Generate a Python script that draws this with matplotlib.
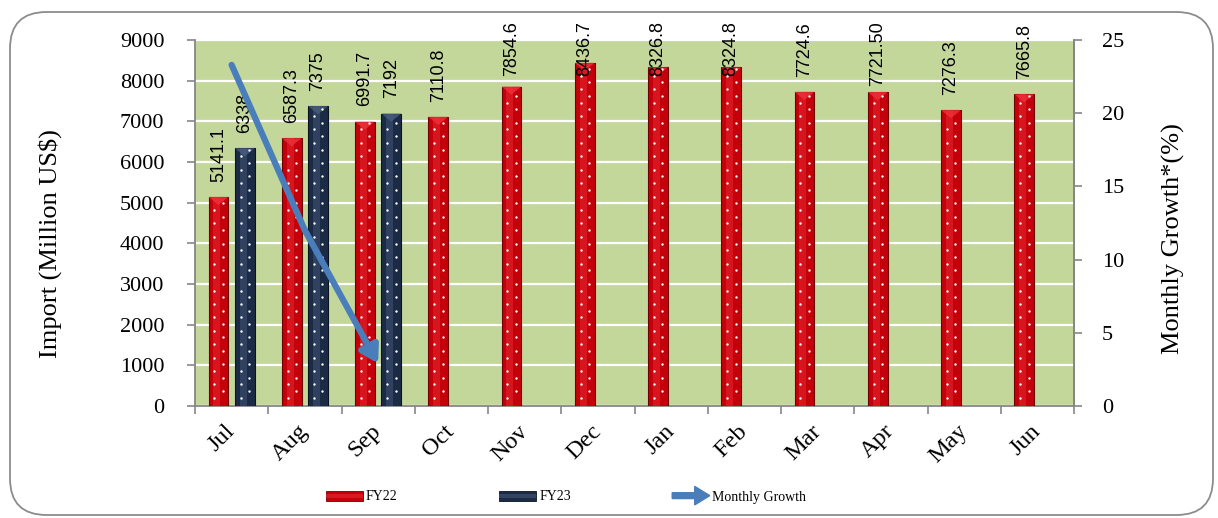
import matplotlib
matplotlib.use("Agg")
import matplotlib.pyplot as plt
import numpy as np
from matplotlib.patches import FancyBboxPatch, Rectangle, FancyArrow, Polygon
from matplotlib.legend_handler import HandlerPatch

months = ["Jul", "Aug", "Sep", "Oct", "Nov", "Dec", "Jan", "Feb", "Mar", "Apr", "May", "Jun"]
fy22 = [5141.1, 6587.3, 6991.7, 7110.8, 7854.6, 8436.7, 8326.8, 8324.8, 7724.6, 7721.5, 7276.3, 7665.8]
fy22_labels = ["5141.1", "6587.3", "6991.7", "7110.8", "7854.6", "8436.7", "8326.8", "8324.8",
               "7724.6", "7721.50", "7276.3", "7665.8"]
fy23 = [6338, 7375, 7192]
fy23_labels = ["6338", "7375", "7192"]
growth = [23.3, 12.0, 2.9]

SERIF = "Liberation Serif"
SANS = "Liberation Sans"
RED = "#c4000a"
RED_EDGE = "#6e0000"
RED_HL = "#f0303a"
NAVY = "#1c2b45"
NAVY_EDGE = "#0a1322"
NAVY_HL = "#4a5d80"
GREEN = "#c4d79b"
BLUE = "#4a7ebb"
GRAY = "#868686"

W, H = 1218, 518
fig = plt.figure(figsize=(W / 100, H / 100), dpi=100)

# rounded frame
frame = FancyBboxPatch((10 / W, 3 / H), 1203 / W, 503 / H,
                       boxstyle="round,pad=0,rounding_size=0.03",
                       transform=fig.transFigure, fill=False, edgecolor="#8c8c8c",
                       linewidth=1.3, mutation_aspect=W / H)
fig.patches.append(frame)

ax = fig.add_axes([195 / W, 1 - 406 / H, (1074 - 195) / W, (406 - 40) / H])
ax.set_facecolor(GREEN)
x = np.arange(len(months))
bw = 0.27
off = 0.18

b22 = ax.bar(x - off, fy22, width=bw, color=RED, edgecolor=RED_EDGE, linewidth=0.8, zorder=3)
b23 = ax.bar(x[:len(fy23)] + off, fy23, width=bw, color=NAVY, edgecolor=NAVY_EDGE, linewidth=0.8, zorder=3)
# highlight stripe, pyramid top + dots
for bars, hl in ((b22, RED_HL), (b23, NAVY_HL)):
    for r in bars:
        xx, ww, hh = r.get_x(), r.get_width(), r.get_height()
        ax.add_patch(Rectangle((xx + ww * 0.25, 0), ww * 0.35, hh, color=hl, alpha=0.45, lw=0, zorder=3.5))
        ax.add_patch(Polygon([(xx, hh), (xx + ww, hh), (xx + ww / 2, hh - 200)], closed=True,
                             color=hl, alpha=0.8, lw=0, zorder=3.6))
        ys = np.arange(200, hh - 150, 330)
        ax.scatter(np.full(len(ys), xx + ww * 0.3), ys, s=3, color="white", zorder=4, lw=0)
        ax.scatter(np.full(len(ys), xx + ww * 0.72), ys + 165, s=3, color="white", zorder=4, lw=0)

ax.set_xlim(-0.5, len(months) - 0.5)
ax.set_ylim(0, 9000)
ax.set_yticks(np.arange(0, 9001, 1000))
ax.yaxis.grid(True, color="white", linewidth=1.6, zorder=1)
ax.set_axisbelow(True)
ax.set_xticks(x)
ax.set_xticks(np.arange(-0.5, len(months), 1), minor=True)
ax.tick_params(axis="x", which="major", length=0, pad=16)
ax.tick_params(axis="x", which="minor", length=6, width=1.2, color=GRAY, direction="out")
ax.tick_params(axis="y", length=6, width=1.2, color=GRAY, pad=16, labelsize=16)
for lab in ax.get_yticklabels():
    lab.set_fontfamily(SERIF)
ax.set_xticklabels(months, rotation=45, ha="right", va="center", rotation_mode="anchor",
                   fontfamily=SERIF, fontsize=17.5)
ax.spines["top"].set_visible(False)
for s in ("left", "bottom", "right"):
    ax.spines[s].set_color(GRAY)
    ax.spines[s].set_linewidth(1.3)

ax2 = ax.twinx()
ax2.set_ylim(0, 25)
ax2.set_yticks(np.arange(0, 26, 5))
ax2.tick_params(axis="y", length=6, width=1.2, color=GRAY, pad=14, labelsize=16)
for lab in ax2.get_yticklabels():
    lab.set_fontfamily(SERIF)
for s in ("top", "left", "bottom"):
    ax2.spines[s].set_visible(False)
ax2.spines["right"].set_color(GRAY)
ax2.spines["right"].set_linewidth(1.3)

gx = x[:len(growth)]
ax2.plot(gx[:-1], growth[:-1], color=BLUE, linewidth=4.5, solid_capstyle="round", zorder=5)
ax2.annotate("", xy=(gx[-1], growth[-1]), xytext=(gx[-2], growth[-2]),
             arrowprops=dict(arrowstyle="-|>,head_length=1.0,head_width=0.6", color=BLUE,
                             lw=4.5, shrinkA=0, shrinkB=0), zorder=5)

# value labels
anns = []
for xi, v, t in zip(x - off, fy22, fy22_labels):
    anns.append(ax.annotate(t, (xi, v), xytext=(0, 11), textcoords="offset points",
                            rotation=90, ha="center", va="bottom", fontfamily=SANS,
                            fontsize=13, annotation_clip=False, zorder=6))
for xi, v, t in zip(x[:len(fy23)] + off, fy23, fy23_labels):
    anns.append(ax.annotate(t, (xi, v), xytext=(0, 11), textcoords="offset points",
                            rotation=90, ha="center", va="bottom", fontfamily=SANS,
                            fontsize=13, annotation_clip=False, zorder=6))

fig.text(50 / W, 1 - 244 / H, "Import (Million US$)", rotation=90, ha="center", va="center",
         fontfamily=SERIF, fontsize=19)
fig.text(1173 / W, 1 - 239 / H, "Monthly Growth*(%)", rotation=90, ha="center", va="center",
         fontfamily=SERIF, fontsize=19)


class ArrowHandler(HandlerPatch):
    def create_artists(self, legend, orig_handle, xdescent, ydescent, width, height, fontsize, trans):
        a = FancyArrow(0, height / 2, width, 0, width=height * 0.6, head_width=height * 1.9,
                       head_length=width * 0.4, length_includes_head=True, color=BLUE,
                       transform=trans)
        return [a]


class BarHandler(HandlerPatch):
    def __init__(self, face, edge, hl):
        super().__init__()
        self.face, self.edge, self.hl = face, edge, hl

    def create_artists(self, legend, orig_handle, xdescent, ydescent, width, height, fontsize, trans):
        r = Rectangle((0, 0), width, height, facecolor=self.face, edgecolor=self.edge, lw=0.6,
                      transform=trans)
        s = Rectangle((0, height * 0.3), width, height * 0.35, facecolor=self.hl, alpha=0.5, lw=0,
                      transform=trans)
        return [r, s]


h22 = Rectangle((0, 0), 1, 1)
h23 = Rectangle((0, 0), 1, 1)
harrow = FancyArrow(0, 0, 1, 0)
leg = fig.legend([h22, h23, harrow], ["FY22", "FY23", "Monthly Growth"], ncol=3,
                 loc="center", bbox_to_anchor=(566 / W, 1 - 497 / H), frameon=False,
                 prop={"family": SERIF, "size": 10}, handlelength=2.7, handleheight=0.7,
                 handletextpad=0.2, columnspacing=7.3,
                 handler_map={h22: BarHandler(RED, RED_EDGE, RED_HL),
                              h23: BarHandler(NAVY, NAVY_EDGE, NAVY_HL),
                              harrow: ArrowHandler()})

# keep labels inside the chart area
fig.canvas.draw()
limit = H - 21
for a in anns:
    bb = a.get_window_extent()
    if bb.y1 > limit:
        excess = bb.y1 - limit
        a.xyann = (0, 11 - excess * 72 / fig.dpi)

fig.savefig("out.png", dpi=100)
